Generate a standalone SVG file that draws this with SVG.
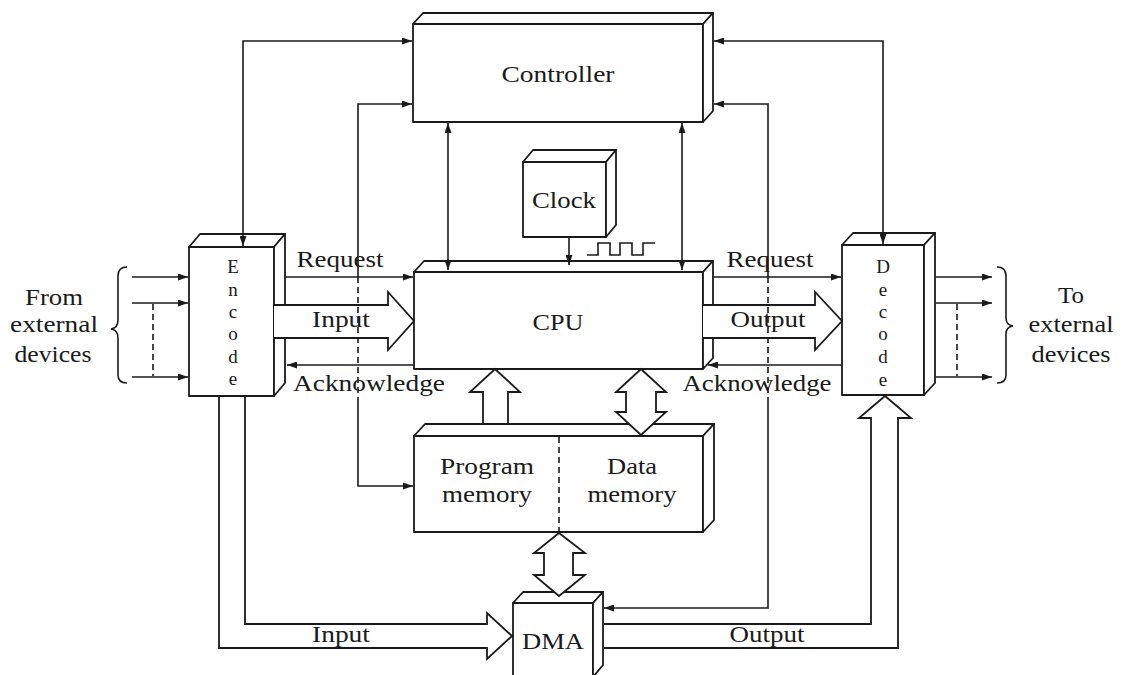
<svg xmlns="http://www.w3.org/2000/svg" width="1125" height="675" viewBox="0 0 1125 675">
<style>
.box{fill:#fff;stroke:#1a1a1a;stroke-width:1.8;stroke-linejoin:round}
.ln{fill:none;stroke:#1a1a1a;stroke-width:1.6}
.dash{fill:none;stroke:#1a1a1a;stroke-width:1.6;stroke-dasharray:6,4}
.bus{fill:#fff;stroke:#1a1a1a;stroke-width:1.8;stroke-linejoin:miter}
.busn{fill:none;stroke:#1a1a1a;stroke-width:1.8;stroke-linejoin:miter}
text{font-family:"Liberation Serif","Times New Roman",serif;font-size:23px;fill:#1a1a1a;text-anchor:middle}
.vl{font-size:19px}
.ar{marker-end:url(#ah)}
.ar2{marker-start:url(#ah);marker-end:url(#ah)}
</style>
<defs>
<marker id="ah" viewBox="0 0 10 7" refX="10" refY="3.5" markerWidth="10" markerHeight="7" markerUnits="userSpaceOnUse" orient="auto-start-reverse"><path d="M0,0 L10,3.5 L0,7 z" fill="#1a1a1a"/></marker>
</defs>
<rect width="1125" height="675" fill="#fff"/>

<g id="controller">
<rect class="box" x="413" y="24" width="290" height="98"/>
<polygon class="box" points="413,24 423,13 713,13 703,24"/>
<polygon class="box" points="703,24 713,13 713,111 703,122"/>
<text x="558" y="82" textLength="113" lengthAdjust="spacingAndGlyphs">Controller</text>
</g>

<g id="clock">
<rect class="box" x="523" y="162" width="83" height="75"/>
<polygon class="box" points="523,162 533,150 616,150 606,162"/>
<polygon class="box" points="606,162 616,150 616,225 606,237"/>
<text x="564" y="208" textLength="64" lengthAdjust="spacingAndGlyphs">Clock</text>
<polyline class="ln" points="587,255 598,255 598,243 610,243 610,255 620,255 620,243 632,243 632,255 643,255 643,243 655,243"/>
</g>

<g id="cpu">
<rect class="box" x="414" y="272" width="289" height="97"/>
<polygon class="box" points="414,272 424,261 713,261 703,272"/>
<polygon class="box" points="703,272 713,261 713,358 703,369"/>
<text x="558" y="330" textLength="51" lengthAdjust="spacingAndGlyphs">CPU</text>
</g>

<g id="encode">
<rect class="box" x="189" y="247" width="85" height="149"/>
<polygon class="box" points="189,247 200,234 285,234 274,247"/>
<polygon class="box" points="274,247 285,234 285,383 274,396"/>
<text class="vl" x="233" y="273">E</text>
<text class="vl" x="233" y="295.5">n</text>
<text class="vl" x="233" y="318">c</text>
<text class="vl" x="233" y="340">o</text>
<text class="vl" x="233" y="362.5">d</text>
<text class="vl" x="233" y="385">e</text>
</g>

<g id="decode">
<rect class="box" x="842" y="245" width="82" height="150"/>
<polygon class="box" points="842,245 853,233 935,233 924,245"/>
<polygon class="box" points="924,245 935,233 935,383 924,395"/>
<text class="vl" x="883" y="273">D</text>
<text class="vl" x="883" y="296">e</text>
<text class="vl" x="883" y="318">c</text>
<text class="vl" x="883" y="340">o</text>
<text class="vl" x="883" y="363">d</text>
<text class="vl" x="883" y="386">e</text>
</g>

<g id="memory">
<rect class="box" x="414" y="436" width="289" height="96"/>
<polygon class="box" points="414,436 425,424 714,424 703,436"/>
<polygon class="box" points="703,436 714,424 714,520 703,532"/>
<line class="dash" x1="559" y1="437" x2="559" y2="531"/>
<text x="487" y="474" textLength="94" lengthAdjust="spacingAndGlyphs">Program</text>
<text x="487" y="502" textLength="90" lengthAdjust="spacingAndGlyphs">memory</text>
<text x="632" y="474" textLength="50" lengthAdjust="spacingAndGlyphs">Data</text>
<text x="632" y="502" textLength="89" lengthAdjust="spacingAndGlyphs">memory</text>
</g>

<g id="dma">
<rect class="box" x="513" y="603" width="80" height="74"/>
<polygon class="box" points="513,603 523,592 603,592 593,603"/>
<polygon class="box" points="593,603 603,592 603,665 593,677"/>
<text x="553" y="649" textLength="62" lengthAdjust="spacingAndGlyphs">DMA</text>
</g>

<g id="external-left">
<path class="ln" d="M127,267 Q118,267 118,276 L118,320 Q118,328 111,329 Q118,330 118,338 L118,375 Q118,383 127,383"/>
<text x="54" y="305" textLength="58" lengthAdjust="spacingAndGlyphs">From</text>
<text x="54" y="332" textLength="88" lengthAdjust="spacingAndGlyphs">external</text>
<text x="53" y="362" textLength="77" lengthAdjust="spacingAndGlyphs">devices</text>
</g>

<g id="external-right">
<path class="ln" d="M997,267 Q1006,267 1006,276 L1006,318 Q1006,325 1013,326 Q1006,327 1006,334 L1006,375 Q1006,383 997,383"/>
<text x="1071" y="303" textLength="26" lengthAdjust="spacingAndGlyphs">To</text>
<text x="1071" y="332" textLength="85" lengthAdjust="spacingAndGlyphs">external</text>
<text x="1071" y="362" textLength="79" lengthAdjust="spacingAndGlyphs">devices</text>
</g>

<g id="connectors">
<path class="ln ar" d="M132,277 L188,277"/>
<path class="ln ar" d="M132,303 L188,303"/>
<path class="ln ar" d="M132,377 L188,377"/>
<path class="dash" d="M153,304 L153,376"/>
<path class="ln ar" d="M936,277 L992,277"/>
<path class="ln ar" d="M936,303 L992,303"/>
<path class="ln ar" d="M936,377 L992,377"/>
<path class="dash" d="M957,304 L957,376"/>

<path class="ln ar2" d="M243,246 L243,41 L412,41"/>
<path class="ln ar2" d="M714,41 L883,41 L883,244"/>
<path class="ln ar2" d="M448,123 L448,270"/>
<path class="ln ar2" d="M682,123 L682,270"/>
<path class="ln ar" d="M569,237 L569,265"/>

<path class="ln ar" d="M285,277 L413,277"/>
<path class="ln ar" d="M414,365 L287,365"/>
<path class="ln ar" d="M713,277 L841,277"/>
<path class="ln ar" d="M842,365 L708,365"/>

<path class="bus" d="M274,305 L388,305 L388,292 L414,321 L388,350 L388,338 L274,338"/>
<path class="bus" d="M703,305 L815,305 L815,292 L842,321 L815,350 L815,338 L703,338"/>
<path class="bus" d="M483,423 L483,392 L470,392 L495,369 L520,392 L508,392 L508,423"/>
<polygon class="bus" points="641,369 666,392 656,392 656,412 666,412 641,435 616,412 626,412 626,392 616,392"/>
<polygon class="bus" points="559,533 585,553 573,553 573,575 585,575 559,596 534,575 544,575 544,553 534,553"/>
<path class="busn" d="M245,397 L245,624 L487,624 L487,613 L512,636 L487,659 L487,648 L219,648 L219,397"/>
<path class="busn" d="M604,624 L871,624 L871,418 L859,418 L885,396 L911,418 L898,418 L898,648 L604,648"/>

<path class="ln ar" d="M358,277 L358,104 L412,104"/>
<path class="dash" d="M358,277 L358,402"/>
<path class="ln ar" d="M358,402 L358,486 L413,486"/>
<path class="ln ar" d="M768,277 L768,104 L714,104"/>
<path class="dash" d="M768,277 L768,402"/>
<path class="ln ar" d="M768,402 L768,608 L604,608"/>
</g>

<g id="labels">
<text x="340" y="267" textLength="87" lengthAdjust="spacingAndGlyphs">Request</text>
<text x="770" y="267" textLength="87" lengthAdjust="spacingAndGlyphs">Request</text>
<text x="341" y="327" textLength="58" lengthAdjust="spacingAndGlyphs">Input</text>
<text x="768" y="327" textLength="75" lengthAdjust="spacingAndGlyphs">Output</text>
<text x="369" y="391" textLength="152" lengthAdjust="spacingAndGlyphs">Acknowledge</text>
<text x="757" y="391" textLength="149" lengthAdjust="spacingAndGlyphs">Acknowledge</text>
<text x="341" y="642" textLength="58" lengthAdjust="spacingAndGlyphs">Input</text>
<text x="767" y="642" textLength="75" lengthAdjust="spacingAndGlyphs">Output</text>
</g>
</svg>
